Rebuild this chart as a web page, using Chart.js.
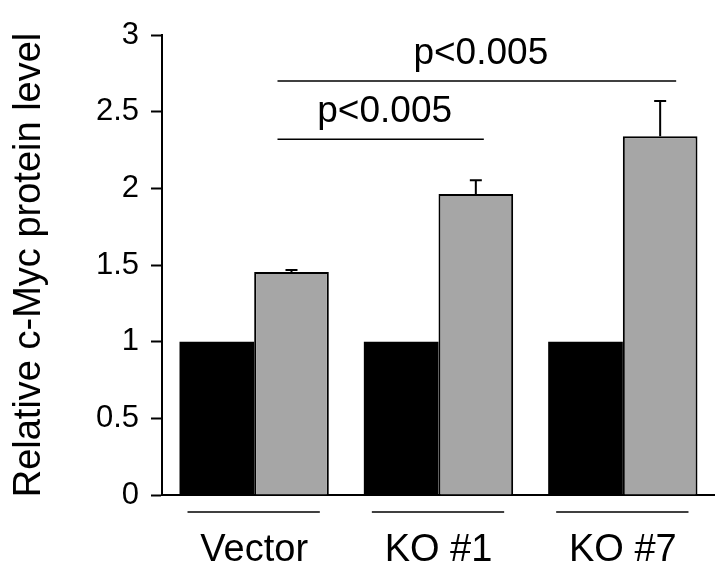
<!DOCTYPE html>
<html>
<head>
<meta charset="utf-8">
<script src="https://cdn.jsdelivr.net/npm/chart.js@4/dist/chart.umd.min.js"></script>
<style>
  html, body { margin: 0; padding: 0; background: #fff; }
  #wrap { width: 715px; height: 569px; }
</style>
</head>
<body>
<div id="wrap"><canvas id="graf_myc" width="715" height="569"></canvas></div>
<script>
// datos
const grupos = ['Vector', 'KO #1', 'KO #7'];
const nivel_control = [1, 1, 1];
const nivel_tratado = [1.455, 1.963, 2.34];
const error_tratado = [0.012, 0.09, 0.23];
const comparaciones = [
    { desde: 0, hasta: 1, texto: 'p<0.005' },
    { desde: 0, hasta: 2, texto: 'p<0.005' }
];

const FUENTE = "'Liberation Sans', Arial, sans-serif";

// barras de error, lineas bajo los grupos y lineas de significancia
const extras = {
    id: 'extras',
    afterDatasetsDraw(chart) {
        const c = chart.ctx;
        const y = chart.scales.y;
        const negro = chart.getDatasetMeta(0).data;
        const gris = chart.getDatasetMeta(1).data;
        c.save();
        c.strokeStyle = '#000';
        c.lineWidth = 2;
        // error
        gris.forEach((b, i) => {
            const yTop = y.getPixelForValue(nivel_tratado[i] + error_tratado[i]);
            c.beginPath();
            c.moveTo(b.x, b.y);
            c.lineTo(b.x, yTop);
            c.moveTo(b.x - 6, yTop);
            c.lineTo(b.x + 6, yTop);
            c.stroke();
        });
        // lineas bajo cada grupo
        c.lineWidth = 1.5;
        negro.forEach((b, i) => {
            const g = gris[i];
            const yy = chart.chartArea.bottom + 17;
            c.beginPath();
            c.moveTo(b.x - b.width / 2 + 8, yy);
            c.lineTo(g.x + g.width / 2 - 9, yy);
            c.stroke();
        });
        // significancia
        const alturas = [2.32, 2.70];
        const extra = [8, 16];
        c.font = '37px ' + FUENTE;
        c.fillStyle = '#000';
        c.textAlign = 'center';
        c.textBaseline = 'alphabetic';
        comparaciones.forEach((cp, k) => {
            const x1 = gris[cp.desde].x - 14;
            const x2 = gris[cp.hasta].x + extra[k];
            const yy = y.getPixelForValue(alturas[k]);
            c.beginPath();
            c.moveTo(x1, yy);
            c.lineTo(x2, yy);
            c.stroke();
            c.fillText(cp.texto, (x1 + x2) / 2 + 4, yy - 17);
        });
        c.restore();
    }
};

const ctx = document.getElementById('graf_myc').getContext('2d');
const chart_myc = new Chart(ctx, {
    type: 'bar',
    data: {
        labels: grupos,
        datasets: [{
            label: 'control',
            data: nivel_control,
            backgroundColor: '#000000',
            borderColor: '#000000',
            borderWidth: 0
        }, {
            label: 'tratado',
            data: nivel_tratado,
            backgroundColor: '#a6a6a6',
            borderColor: '#000000',
            borderWidth: 2
        }]
    },
    options: {
        responsive: false,
        animation: false,
        layout: { padding: { top: 35, right: 0, bottom: 0, left: 0 } },
        datasets: {
            bar: { categoryPercentage: 0.81, barPercentage: 1.0 }
        },
        scales: {
            x: {
                offset: true,
                grid: { display: false, drawTicks: false },
                border: { display: true, color: '#000', width: 2 },
                ticks: {
                    color: '#000',
                    padding: 33,
                    font: { size: 38, family: FUENTE }
                },
                afterFit(s) {
                    s.height = 74;
                }
            },
            y: {
                min: 0,
                max: 3,
                grid: {
                    drawOnChartArea: false,
                    drawTicks: true,
                    tickLength: 11,
                    tickWidth: 2,
                    color: '#000'
                },
                border: { display: true, color: '#000', width: 2 },
                ticks: {
                    stepSize: 0.5,
                    color: '#000',
                    padding: 12,
                    font: { size: 31, family: FUENTE },
                    callback: (v) => String(Number(v))
                },
                title: {
                    display: true,
                    text: 'Relative c-Myc protein level',
                    color: '#000',
                    padding: { top: 7, bottom: 0 },
                    font: { size: 38, family: FUENTE }
                },
                afterFit(s) { s.width = 162; }
            }
        },
        plugins: {
            legend: { display: false },
            tooltip: { enabled: false }
        }
    },
    plugins: [extras]
});
</script>
</body>
</html>
